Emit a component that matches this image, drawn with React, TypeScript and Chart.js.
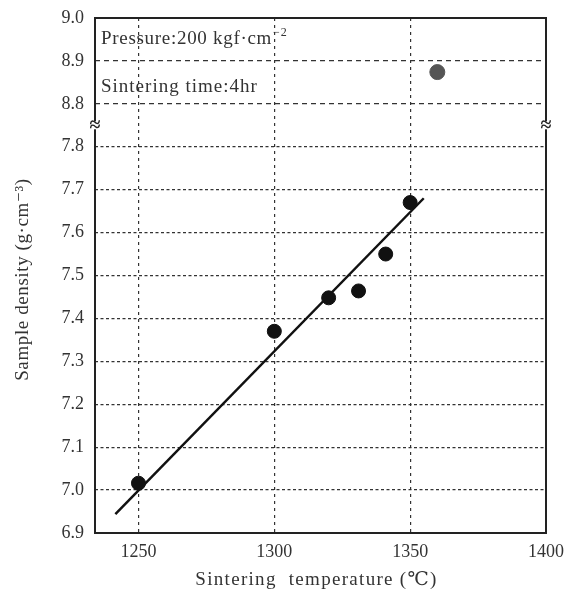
import React, { useEffect, useRef } from "react";
import { Chart, registerables } from "chart.js";

Chart.register(...registerables);

// ---- data ----
const temperatures = [1250, 1300, 1320, 1331, 1341, 1350];
const densities = [7.016, 7.37, 7.448, 7.464, 7.55, 7.67];
const outlierTemperature = [1360];
const outlierDensity = [8.874];
const fitTemperatures = [1241.5, 1355];
const fitDensities = [6.944, 7.68];
const xTicks = [1250, 1300, 1350, 1400];
const yTicks = [6.9, 7.0, 7.1, 7.2, 7.3, 7.4, 7.5, 7.6, 7.7, 7.8, 8.8, 8.9, 9.0];
const breakLow = 7.8;
const breakHigh = 8.8;
const annotationLines = ["Pressure:200 kgf\u00b7cm", "Sintering time:4hr"];
const xTitle = "Sintering  temperature (\u2103)";
const yTitle = "Sample density (g\u00b7cm\u207b\u00b3)";

const SERIF = "'Liberation Serif', 'DejaVu Serif', serif";
const GAP = breakHigh - breakLow - 0.1; // 8.8 sits one step above 7.8

const toAxis = (v: number) => (v >= breakHigh - 0.05 ? v - GAP : v);
const fromAxis = (v: number) => (v > breakLow + 0.05 ? v + GAP : v);

const zeroPadding = (s: any) => {
  s.paddingLeft = 0;
  s.paddingRight = 0;
  s.paddingTop = 0;
  s.paddingBottom = 0;
};

const framePlugin = {
  id: "frameAndNotes",
  afterDraw(chart: any) {
    const { ctx, chartArea } = chart;
    const { left, right, top, bottom } = chartArea;
    const yScale = chart.scales.y;
    ctx.save();
    ctx.strokeStyle = "#222";
    ctx.lineWidth = 2;
    ctx.strokeRect(left, top, right - left, bottom - top);

    // axis break marks
    const yb = yScale.getPixelForValue(breakLow + 0.05);
    for (const x of [left, right]) {
      ctx.fillStyle = "#fff";
      ctx.fillRect(x - 3, yb - 4, 6, 8);
      ctx.fillStyle = "#222";
      ctx.font = `bold 20px ${SERIF}`;
      ctx.textAlign = "center";
      ctx.textBaseline = "middle";
      ctx.fillText("\u2248", x, yb + 1);
    }

    // annotation text
    ctx.fillStyle = "#333";
    ctx.textAlign = "left";
    ctx.textBaseline = "middle";
    const x0 = left + 6;
    ctx.font = `19px ${SERIF}`;
    (ctx as any).letterSpacing = "0.7px";
    const y1 = yScale.getPixelForValue(toAxis(8.95));
    ctx.fillText(annotationLines[0], x0, y1);
    const w = ctx.measureText(annotationLines[0]).width;
    (ctx as any).letterSpacing = "0px";
    ctx.font = `12px ${SERIF}`;
    ctx.fillText("\u2212", x0 + w + 1, y1 - 7);
    const mw = ctx.measureText("\u2212").width;
    ctx.fillText("2", x0 + w + 2 + mw, y1 - 7);
    ctx.font = `19px ${SERIF}`;
    (ctx as any).letterSpacing = "1px";
    const y2 = yScale.getPixelForValue(toAxis(8.84));
    ctx.fillText(annotationLines[1], x0, y2);

    // axis titles
    (ctx as any).letterSpacing = "1.3px";
    ctx.textAlign = "center";
    ctx.textBaseline = "alphabetic";
    ctx.font = `19px ${SERIF}`;
    ctx.fillText(xTitle, (left + right) / 2 - 4, bottom + 52);

    (ctx as any).letterSpacing = "0.6px";
    ctx.translate(28, (top + bottom) / 2 + 4);
    ctx.rotate(-Math.PI / 2);
    ctx.fillText(yTitle, 0, 0);
    ctx.restore();
  },
};

export default function App() {
  const canvasRef = useRef<HTMLCanvasElement | null>(null);

  useEffect(() => {
    if (!canvasRef.current) return;
    const chart = new Chart(canvasRef.current, {
      type: "scatter",
      data: {
        datasets: [
          {
            type: "line",
            data: fitTemperatures.map((t, i) => ({ x: t, y: toAxis(fitDensities[i]) })),
            borderColor: "#111",
            borderWidth: 2.5,
            pointRadius: 0,
            showLine: true,
            fill: false,
          } as any,
          {
            data: temperatures.map((t, i) => ({ x: t, y: toAxis(densities[i]) })),
            backgroundColor: "#111",
            borderColor: "#111",
            pointRadius: 7,
          },
          {
            data: outlierTemperature.map((t, i) => ({ x: t, y: toAxis(outlierDensity[i]) })),
            backgroundColor: "#555",
            borderColor: "#555",
            pointRadius: 7.5,
          },
        ],
      },
      options: {
        animation: false,
        responsive: false,
        layout: { padding: { left: 0, top: 18, right: 19, bottom: 0 } },
        plugins: { legend: { display: false }, tooltip: { enabled: false } },
        scales: {
          x: {
            type: "linear",
            min: 1234,
            max: 1400,
            afterBuildTicks: (s: any) => {
              s.ticks = xTicks.map((v) => ({ value: v }));
            },
            afterFit: (s: any) => {
              s.height = 65;
              zeroPadding(s);
            },
            ticks: {
              color: "#333",
              font: { family: SERIF, size: 18 },
              padding: 8,
              maxRotation: 0,
              callback: (v: any) => String(v),
            },
            grid: { color: "#333", lineWidth: 1.2, drawTicks: false },
            border: { display: false, dash: [3, 4] },
          },
          y: {
            type: "linear",
            min: 6.9,
            max: toAxis(9.0),
            afterBuildTicks: (s: any) => {
              s.ticks = yTicks.map((v) => ({ value: toAxis(v) }));
            },
            afterFit: (s: any) => {
              s.width = 95;
              zeroPadding(s);
            },
            ticks: {
              color: "#333",
              font: { family: SERIF, size: 18 },
              padding: 11,
              callback: (v: any) => fromAxis(Number(v)).toFixed(1),
            },
            grid: { color: "#333", lineWidth: 1.2, drawTicks: false },
            border: {
              display: false,
              dash: (c: any) => (c.tick && c.tick.value > breakLow + 0.05 ? [5, 4] : [3, 2.5]),
            } as any,
          },
        },
      },
      plugins: [framePlugin],
    });
    return () => chart.destroy();
  }, []);

  return (
    <div style={{ position: "absolute", left: 0, top: 0, width: 565, height: 598, background: "#fff" }}>
      <canvas ref={canvasRef} width={565} height={598} style={{ display: "block" }} />
    </div>
  );
}
